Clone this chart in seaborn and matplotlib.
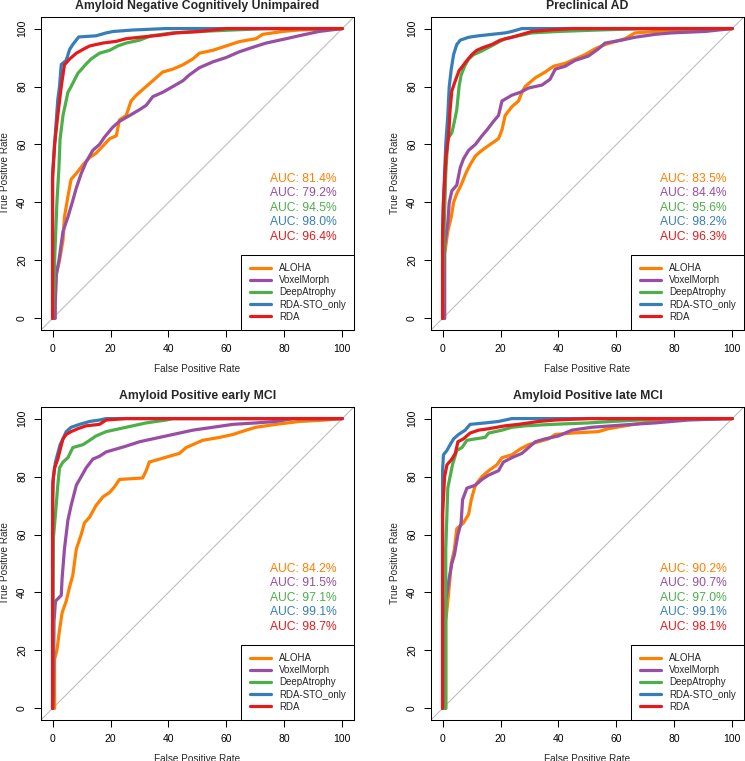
import numpy as np
import pandas as pd
import seaborn as sns
import matplotlib
matplotlib.use("Agg")
import matplotlib.pyplot as plt
from matplotlib.lines import Line2D

models = ["ALOHA", "VoxelMorph", "DeepAtrophy", "RDA-STO_only", "RDA"]
colors = ["#FF7F00", "#984EA3", "#4DAF4A", "#377EB8", "#E41A1C"]

titles = ["Amyloid Negative Cognitively Unimpaired", "Preclinical AD",
          "Amyloid Positive early MCI", "Amyloid Positive late MCI"]

# AUC (%) per panel, in model order
auc_cu = [81.4, 79.2, 94.5, 98.0, 96.4]
auc_pre = [83.5, 84.4, 95.6, 98.2, 96.3]
auc_emci = [84.2, 91.5, 97.1, 99.1, 98.7]
auc_lmci = [90.2, 90.7, 97.0, 99.1, 98.1]

# --- Amyloid Negative Cognitively Unimpaired ---
cu_aloha_fpr = [0, 0.8, 1.2, 2.4, 3.6, 4.1, 5.3, 6.4, 8.2, 10.5, 12.8, 15, 17.4, 19.7, 22, 23.1, 25.4, 27.1, 28.9,
                32.3, 34.6, 38, 41.5, 45, 48.4, 50.7, 55.3, 59.9, 64.5, 70.2, 72.5, 79.4, 85, 100]
cu_aloha_tpr = [0, 0, 15, 20, 27, 35, 42, 48, 50, 53, 55.5, 57, 59.5, 62, 63, 68.5, 70, 75, 77,
                80, 82, 85, 86, 87.5, 89.5, 91.5, 92.5, 94, 95.5, 96.5, 98, 99, 99.5, 100]
cu_voxel_fpr = [0, 0.9, 0.9, 1.3, 2.2, 3.6, 5.3, 6.8, 8.2, 9.9, 11.6, 13.9, 16.2, 17.9, 20.8, 23.1, 26.6, 30, 32.3,
                34.6, 38, 41.5, 45, 47.2, 50.7, 55.3, 59.9, 64.5, 69, 73.7, 80.6, 85, 92, 100]
cu_voxel_tpr = [0, 0, 5, 15, 20, 30, 35, 40, 45, 50, 54, 58, 60, 62.5, 66, 68, 70, 72, 73.5,
                76.5, 78, 80, 82, 84, 86.5, 88.5, 90, 92, 93.5, 95, 96.5, 97.5, 99, 100]
cu_deep_fpr = [0, 0.5, 0.7, 1.5, 2.2, 2.6, 3.6, 5.3, 6.4, 8.7, 11.6, 13.3, 16.2, 19.7, 22.5, 25.4, 30, 34,
               41.5, 50.7, 62, 73.7, 100]
cu_deep_tpr = [0, 10, 20, 40, 52, 62, 70, 78, 80, 84.5, 87.8, 89.5, 91.5, 92.5, 94, 95, 96, 97.5,
               98.5, 99, 99.5, 100, 100]
cu_sto_fpr = [0, 0, 0.7, 1.8, 2.4, 3, 4.7, 5.9, 7, 9, 15, 18.5, 21, 27.7, 39, 100]
cu_sto_tpr = [0, 50, 60, 75.5, 80, 87.6, 89, 92.8, 94.5, 97.1, 97.5, 98.5, 99, 99.5, 100, 100]
cu_rda_fpr = [0, 0, 0.7, 1.8, 3, 4.1, 5.9, 8.2, 10.5, 12.8, 17.4, 22, 25.4, 30, 37, 42.6, 50.7, 60, 100]
cu_rda_tpr = [0, 48, 60, 70, 80, 87.5, 89.5, 91.5, 92.8, 94, 95, 95.6, 96.5, 97, 97.7, 98.5, 99, 100, 100]

# --- Preclinical AD ---
pre_aloha_fpr = [0, 0.7, 0.7, 1.8, 3, 3.8, 4.9, 6.4, 8, 9.5, 11.3, 13.6, 16.4, 19.3, 20.5, 21.6, 23.9, 26.2, 27.4,
                 28.5, 32, 35.4, 38.3, 42.3, 45.7, 49.2, 52.6, 56.1, 59.5, 63, 66.4, 73.3, 84.8, 100]
pre_aloha_tpr = [0, 0, 22, 30, 35, 40, 43, 46, 50, 53, 56, 58, 60, 62, 65, 70, 73, 75, 78,
                 80, 83, 85, 87, 88, 89.5, 91, 93, 94.5, 95.5, 96.5, 98.5, 99, 99.5, 100]
pre_voxel_fpr = [0, 0.7, 0.7, 1.8, 2.3, 3.2, 4.9, 6.1, 7.2, 9, 11.3, 13.6, 15.3, 17.6, 19.3, 20.5, 23.9, 26.8, 29.7,
                 34.3, 37.1, 38.9, 42.3, 45.7, 50.3, 53.8, 56.1, 61.8, 66.4, 73.3, 79, 90.6, 100]
pre_voxel_tpr = [0, 0, 25, 33, 40, 44, 46, 52, 55, 58, 60, 63, 65, 68, 70, 75, 77, 78, 79.5,
                 80.5, 82.5, 86, 87, 89, 90.5, 93, 95, 96, 97, 98, 98.5, 99, 100]
pre_deep_fpr = [0, 0.5, 1.1, 1.8, 3.2, 4.1, 4.9, 5.7, 6.4, 7.6, 9, 10.7, 13, 15.9, 18.7, 21.6, 26.2, 30.8,
                40, 53.8, 70, 100]
pre_deep_tpr = [0, 30, 50, 62, 64, 68, 72, 80, 84, 87, 89.5, 91, 92, 93.5, 95, 96.5, 97.5, 98.5,
                99, 99.5, 100, 100]
pre_sto_fpr = [0, 0, 0.3, 0.7, 1.1, 1.8, 2.3, 3, 3.8, 4.9, 6.1, 9, 12.4, 17, 21.6, 23.9, 27.4, 100]
pre_sto_tpr = [0, 30, 40, 50, 60, 70, 80, 86, 91, 94.5, 96, 97, 97.5, 98, 98.5, 99, 100, 100]
pre_rda_fpr = [0, 0, 0.3, 1.1, 2.1, 2.6, 3.2, 4.4, 5.7, 6.9, 8.4, 10.1, 11.8, 14.1, 17, 19.9, 23.9, 27.4,
               30.8, 36.6, 44.6, 100]
pre_rda_tpr = [0, 28, 40, 55, 63, 72, 78.5, 82, 85.5, 87, 89, 91, 92.5, 93.5, 94.5, 96, 97, 98,
               99, 99.5, 100, 100]

# --- Amyloid Positive early MCI ---
emci_aloha_fpr = [0, 0.7, 0.7, 1.5, 2.4, 3.3, 4.7, 5.9, 7, 8.2, 9.9, 11, 12.8, 15, 17.4, 19.7, 21.4, 23.1, 31.1,
                  32.3, 33.4, 36.9, 40.3, 43.8, 46.1, 48.4, 51.8, 57.6, 62.2, 66.8, 70.2, 77.1, 85.2, 94.4, 100]
emci_aloha_tpr = [0, 0, 17, 20, 27, 33, 37, 42, 46, 55, 60, 64, 66, 70, 73, 74.5, 76.5, 79, 79.5,
                  82, 85, 86, 87, 88, 90, 91, 92.5, 93.5, 94.5, 96, 97, 98, 99, 99.5, 100]
emci_voxel_fpr = [0, 0.3, 0.5, 1, 3, 3.3, 4.1, 5.3, 6.4, 8.2, 9.9, 11.6, 13.9, 16.2, 18.5, 22, 25.4, 30,
                  34.6, 39.2, 43.8, 48.4, 55.3, 62.2, 70.2, 77.1, 83, 100]
emci_voxel_tpr = [0, 5, 30, 37, 39, 45, 55, 65, 70, 77, 80, 83, 86, 87, 88.5, 89.5, 90.5, 92,
                  93, 94, 95, 96, 97, 98, 98.5, 99, 100, 100]
emci_deep_fpr = [0, 0.3, 1, 1.8, 2.4, 3.6, 5.3, 7, 10.5, 12.8, 15, 18.5, 23.1, 27.7, 32.3, 39.2, 41.5, 100]
emci_deep_tpr = [0, 59, 67, 77, 83, 85, 86.5, 90, 91, 92.5, 94, 95.5, 96.5, 97.5, 98.5, 99.5, 100, 100]
emci_sto_fpr = [0, 0, 0, 0.3, 1, 1.8, 2.6, 3.6, 4.7, 6.4, 9.3, 12.8, 16.2, 18.5, 100]
emci_sto_tpr = [0, 60, 73, 80, 85, 88, 91, 93, 95.5, 97, 98, 99, 99.5, 100, 100]
emci_rda_fpr = [0, 0, 0.1, 0.7, 1.8, 2.8, 3.6, 4.7, 6.4, 8.7, 11.6, 16.2, 18.5, 25.4, 100]
emci_rda_tpr = [0, 60, 78, 83, 86, 90, 93, 94.5, 95.5, 96.5, 97.5, 98, 99.5, 100, 100]

# --- Amyloid Positive late MCI ---
lmci_aloha_fpr = [0, 1.1, 1.1, 2.1, 3, 4.1, 4.9, 7.2, 9, 9.9, 11.3, 13.6, 15.9, 18.7, 20.5, 23.9, 26.8, 29.7,
                  33.1, 36.6, 38.9, 44.6, 53.8, 57.2, 63, 72.2, 79.1, 90.6, 100]
lmci_aloha_tpr = [0, 0, 30, 40, 50, 55, 62, 64, 67, 72, 77, 80, 82, 84, 86.5, 87.5, 89.5, 91,
                  92, 93, 94.5, 95, 95.5, 96.5, 97.5, 99, 99.5, 100, 100]
lmci_voxel_fpr = [0, 0.7, 0.7, 1.1, 2.3, 3.2, 4.1, 5.3, 6.4, 6.9, 8.4, 11.3, 13.6, 15.9, 19.3, 21, 23.9, 27.4,
                  29.7, 32, 35.4, 40, 44.6, 51.5, 65.3, 73.3, 84.8, 100]
lmci_voxel_tpr = [0, 0, 12, 37, 45, 50, 53, 60, 64, 72, 76, 77, 79, 80.5, 82, 85, 86.5, 88,
                  90, 92, 93, 94, 96, 97, 98, 98.5, 99.5, 100]
lmci_deep_fpr = [0, 1.1, 1.1, 1.8, 2.6, 3.4, 4.9, 6.7, 8.4, 11.3, 14.7, 15.9, 20.5, 23.9, 28.5, 37.7, 50.3,
                 58.4, 67.6, 75.6, 100]
lmci_deep_tpr = [0, 0, 55, 76, 80, 84, 89, 90, 92.5, 93, 93.5, 95, 96, 97, 97.5, 98, 98.5,
                 99, 99.5, 100, 100]
lmci_sto_fpr = [0, 0, 0, 0.3, 1.5, 2.6, 3.8, 5.5, 7.8, 9.5, 14.7, 19.3, 23.9, 100]
lmci_sto_tpr = [0, 68, 82, 87.5, 89, 91, 93, 94.5, 96, 98, 98.5, 99, 100, 100]
lmci_rda_fpr = [0, 0, 0.7, 1.5, 3.2, 4.4, 5.3, 7.2, 9.5, 12.4, 15.9, 21.6, 26.2, 33.1, 38.9, 50.3, 100]
lmci_rda_tpr = [0, 67, 80, 84, 86, 88, 92, 93, 95, 96, 96.5, 97.5, 98, 99, 99.5, 100, 100]

panels = [
    ([cu_aloha_fpr, cu_voxel_fpr, cu_deep_fpr, cu_sto_fpr, cu_rda_fpr],
     [cu_aloha_tpr, cu_voxel_tpr, cu_deep_tpr, cu_sto_tpr, cu_rda_tpr], auc_cu),
    ([pre_aloha_fpr, pre_voxel_fpr, pre_deep_fpr, pre_sto_fpr, pre_rda_fpr],
     [pre_aloha_tpr, pre_voxel_tpr, pre_deep_tpr, pre_sto_tpr, pre_rda_tpr], auc_pre),
    ([emci_aloha_fpr, emci_voxel_fpr, emci_deep_fpr, emci_sto_fpr, emci_rda_fpr],
     [emci_aloha_tpr, emci_voxel_tpr, emci_deep_tpr, emci_sto_tpr, emci_rda_tpr], auc_emci),
    ([lmci_aloha_fpr, lmci_voxel_fpr, lmci_deep_fpr, lmci_sto_fpr, lmci_rda_fpr],
     [lmci_aloha_tpr, lmci_voxel_tpr, lmci_deep_tpr, lmci_sto_tpr, lmci_rda_tpr], auc_lmci),
]

sns.set_style("ticks")
plt.rcParams["font.family"] = ["Liberation Sans", "DejaVu Sans"]

fig = plt.figure(figsize=(7.45, 7.61), dpi=100)
positions = [(0.055, 0.5664), (0.5785, 0.5664), (0.055, 0.0539), (0.5785, 0.0539)]
palette = dict(zip(models, colors))
lw = 2.3

for i, (fprs, tprs, aucs) in enumerate(panels):
    ax = fig.add_axes([positions[i][0], positions[i][1], 0.420, 0.4113])
    ax.axline((0, 0), slope=1, color="#BEBEBE", lw=0.8, zorder=1)

    # long-format table for this panel
    frames = []
    for m, f, t in zip(models, fprs, tprs):
        frames.append(pd.DataFrame({"fpr": f, "tpr": t, "model": m, "step": np.arange(len(f))}))
    df = pd.concat(frames, ignore_index=True)
    sns.lineplot(data=df, x="fpr", y="tpr", hue="model", hue_order=models, palette=palette,
                 sort=False, estimator=None, lw=lw, legend=False, ax=ax, zorder=3)

    ax.set_xlim(-4, 104)
    ax.set_ylim(-4, 104)
    ax.set_xticks([0, 20, 40, 60, 80, 100])
    ax.set_yticks([0, 20, 40, 60, 80, 100])
    ax.tick_params(direction="out", length=5, width=0.75, labelsize=7.5, pad=5, colors="black")
    for lab in ax.get_yticklabels():
        lab.set_rotation(90)
        lab.set_va("center")
    for s in ax.spines.values():
        s.set_visible(True)
        s.set_linewidth(0.75)
        s.set_color("black")
    ax.set_xlabel("False Positive Rate", fontsize=7.2, labelpad=7)
    ax.set_ylabel("True Positive Rate", fontsize=7.2, labelpad=5)
    ax.set_title(titles[i], fontsize=8.8, fontweight="bold", pad=5.5)

    # AUC annotations
    for k, (a, c) in enumerate(zip(aucs, colors)):
        ax.text(98, 48.2 - 5 * k, f"AUC: {a:.1f}%", color=c, fontsize=8.7, ha="right", va="center")

    handles = [Line2D([0], [0], color=c, lw=lw) for c in colors]
    leg = ax.legend(handles, models, loc="lower right", fontsize=7, frameon=True, fancybox=False,
                    edgecolor="black", framealpha=1, borderaxespad=0, borderpad=0.85,
                    handlelength=2.2, handletextpad=0.8, labelspacing=0.22)
    leg.get_frame().set_linewidth(0.75)
    leg.set_zorder(5)

fig.savefig("out.png", dpi=100)
